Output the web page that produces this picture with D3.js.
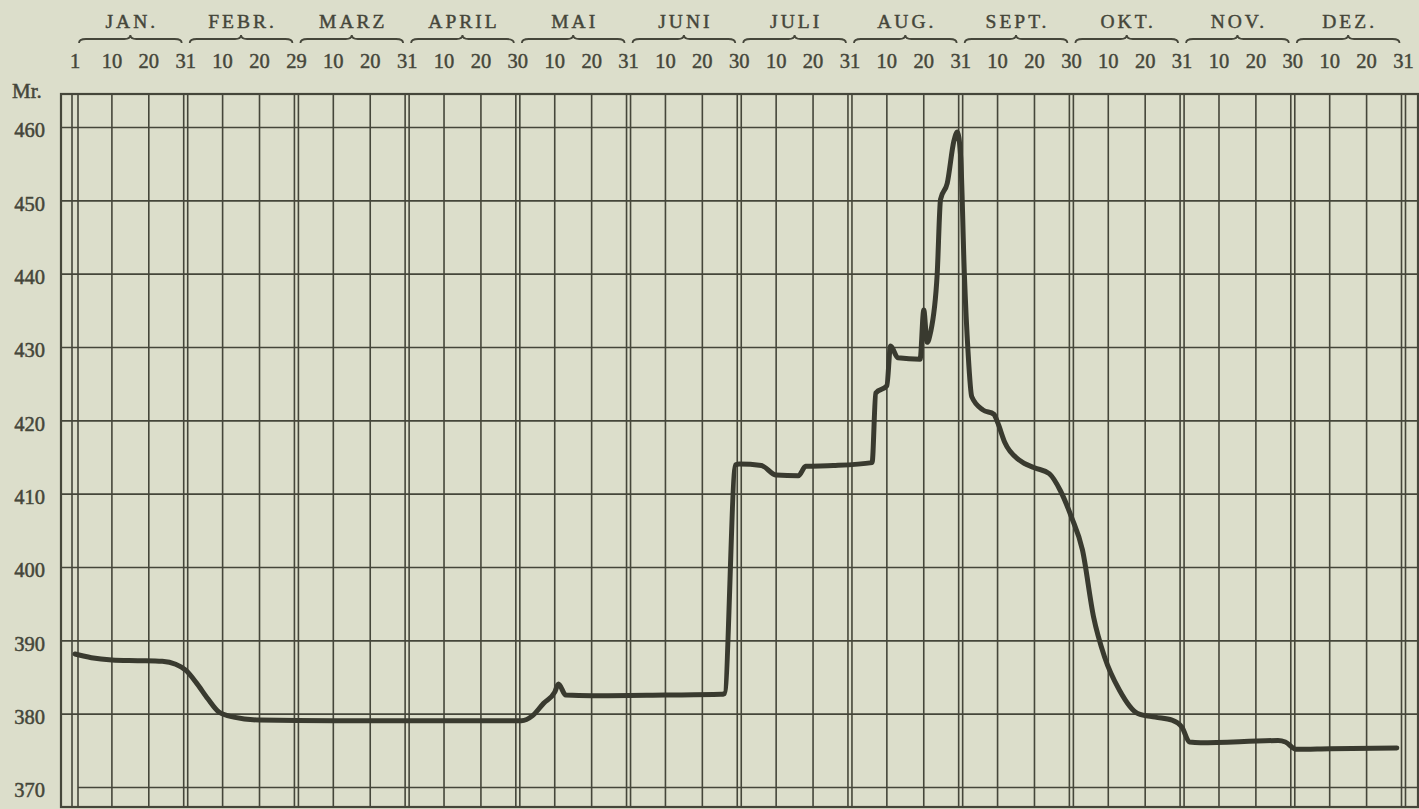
<!DOCTYPE html>
<html>
<head>
<meta charset="utf-8">
<script src="https://cdn.jsdelivr.net/npm/d3@7"></script>
<style>
  html, body { margin: 0; padding: 0; background: #dcdecb; }
  svg { display: block; }
  text { font-family: "Liberation Serif", "Times New Roman", serif; fill: #45463a; }
</style>
</head>
<body>
<svg id="chart" width="1419" height="809"></svg>
<script>
// ---- data ----
const year = 1912;
const months = ["JAN.","FEBR.","MARZ","APRIL","MAI","JUNI","JULI","AUG.","SEPT.","OKT.","NOV.","DEZ."];
const tickLabels = ["1","10","20","31","10","20","29","10","20","31","10","20","30","10","20","31","10","20","30",
                    "10","20","31","10","20","31","10","20","30","10","20","31","10","20","30","10","20","31"];
const yTicks = [370,380,390,400,410,420,430,440,450,460];
const yUnit = "Mr.";
const dates = ["01-01","01-05","01-10","01-17","01-24","01-28","01-31","02-03","02-06","02-09","02-13","02-20",
  "03-10","04-10","05-01","05-04","05-07","05-10","05-11","05-13","05-20","06-10","06-25","06-26","06-29","06-30",
  "07-06","07-10","07-16","07-18","07-26","08-06","08-07","08-10","08-11","08-13","08-19","08-20","08-21","08-22",
  "08-24","08-25","08-27","08-29","08-30","08-31","09-01","09-02","09-03","09-06","09-09","09-10","09-12","09-16",
  "09-20","09-24","09-27","09-30","10-03","10-06","10-09","10-13","10-18","10-23","10-28","10-31","11-02","11-05",
  "11-26","11-28","12-01","12-10","12-29"];
const prices = [388.2,387.7,387.4,387.3,387.2,386.8,386.0,384.2,382.1,380.3,379.6,379.2,
  379.1,379.1,379.1,379.8,381.5,383.0,384.1,382.6,382.5,382.6,382.7,382.8,414.0,414.1,
  413.9,412.6,412.5,413.8,413.9,414.3,423.8,424.8,430.2,428.6,428.4,435.1,430.7,432.0,
  440.0,450.2,452.4,458.2,459.4,456.0,440.0,429.4,423.3,421.5,420.9,419.8,417.0,414.6,
  413.6,412.8,410.5,406.9,402.4,393.3,387.8,383.3,380.1,379.6,379.2,378.2,376.2,376.1,
  376.4,376.2,375.2,375.3,375.4];

// ---- layout ----
const W = 1419, H = 809;
const frame = {left: 61, right: 1418, top: 94, bottom: 807};
const gridStart = 75, gridEnd = 1403.5;
const ink = "#45463a";

const svg = d3.select("#chart");
svg.append("rect").attr("width", W).attr("height", H).attr("fill", "#dcdecb");

const parse = d3.timeParse("%Y-%m-%d");
const gridDates = tickLabels.map((t, i) => i === 0 ? new Date(year, 0, 1) : new Date(year, Math.floor((i - 1) / 3), +t));
const step = (gridEnd - gridStart) / (gridDates.length - 1);
const x = d3.scaleTime().domain(gridDates).range(gridDates.map((d, i) => gridStart + i * step));
const y = d3.scaleLinear().domain([370, 460]).range([787.5, 127.5]);

const data = dates.map((d, i) => ({date: parse(year + "-" + d), value: prices[i]}));

// ---- grid ----
const grid = svg.append("g").attr("stroke", ink).attr("fill", "none");
grid.selectAll("line.h").data(yTicks).join("line")
  .attr("class", "h")
  .attr("x1", d => d === 370 ? x(gridDates[0]) + 3 : frame.left)
  .attr("x2", frame.right)
  .attr("y1", d => y(d)).attr("y2", d => y(d))
  .attr("stroke-width", 1.6);

const vLines = [];
gridDates.forEach((d, i) => {
  const px = x(d);
  if (i === 0) { vLines.push(px - 3, px + 3); }
  else if (i % 3 === 0) { vLines.push(px - 2, px + 2); }
  else vLines.push(px);
});
grid.selectAll("line.v").data(vLines).join("line")
  .attr("class", "v")
  .attr("x1", d => d).attr("x2", d => d)
  .attr("y1", frame.top).attr("y2", frame.bottom)
  .attr("stroke-width", 1.6);

grid.append("rect")
  .attr("x", frame.left).attr("y", frame.top)
  .attr("width", frame.right - frame.left).attr("height", frame.bottom - frame.top)
  .attr("stroke-width", 2.2);

// ---- y axis ----
const yAxis = svg.append("g")
  .attr("transform", `translate(${frame.left},0)`)
  .call(d3.axisLeft(y).tickValues(yTicks).tickSize(0).tickPadding(16).tickFormat(d3.format("d")));
yAxis.select(".domain").remove();
yAxis.selectAll("text")
  .attr("dy", "0.45em")
  .style("font-family", '"Liberation Serif", serif')
  .style("font-size", "20.5px")
  .style("fill", ink)
  .style("stroke", ink).style("stroke-width", 0.5);

svg.append("text").attr("x", 12).attr("y", 98)
  .style("font-size", "21px").style("stroke", ink).style("stroke-width", 0.5)
  .text(yUnit);

// ---- top axis: day labels ----
svg.append("g").selectAll("text").data(gridDates).join("text")
  .attr("x", d => x(d)).attr("y", 68)
  .attr("text-anchor", "middle")
  .style("font-size", "20.5px").style("stroke", ink).style("stroke-width", 0.45)
  .text((d, i) => tickLabels[i]);

// ---- month labels + braces ----
const mg = svg.append("g");
months.forEach((m, k) => {
  const x0 = x(gridDates[k * 3]), x1 = x(gridDates[k * 3 + 3]);
  const xm = (x0 + x1) / 2;
  mg.append("text").attr("x", xm + 1.5).attr("y", 28)
    .attr("text-anchor", "middle")
    .style("font-size", "19.5px").style("letter-spacing", "3px")
    .style("stroke", ink).style("stroke-width", 0.45)
    .text(m);
  const a = x0 + 4, b = x1 - 4, yb = 39;
  const p = d3.path();
  p.moveTo(a, yb + 4);
  p.quadraticCurveTo(a, yb, a + 7, yb);
  p.lineTo(xm - 6, yb);
  p.quadraticCurveTo(xm, yb, xm, yb - 4);
  p.quadraticCurveTo(xm, yb, xm + 6, yb);
  p.lineTo(b - 7, yb);
  p.quadraticCurveTo(b, yb, b, yb + 4);
  mg.append("path").attr("d", p.toString())
    .attr("fill", "none").attr("stroke", ink).attr("stroke-width", 1.8);
});

// ---- price curve ----
const line = d3.line().x(d => x(d.date)).y(d => y(d.value)).curve(d3.curveMonotoneX);
svg.append("path").datum(data)
  .attr("d", line)
  .attr("fill", "none")
  .attr("stroke", "#393a2f")
  .attr("stroke-width", 5)
  .attr("stroke-linejoin", "round")
  .attr("stroke-linecap", "round");
</script>
</body>
</html>
